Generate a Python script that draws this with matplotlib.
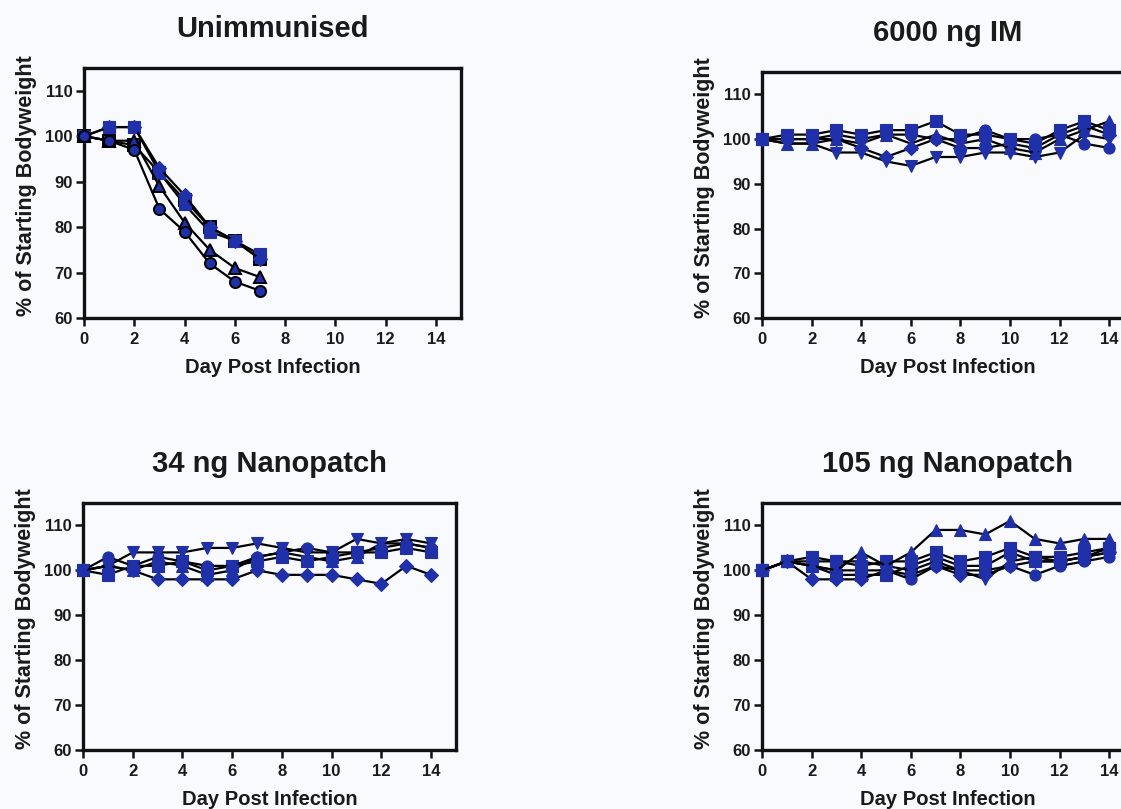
import matplotlib
matplotlib.use("Agg")
import matplotlib.pyplot as plt

plt.rcParams['font.family'] = ['Liberation Sans', 'DejaVu Sans']

# ---------------- data ----------------
days_short = [0, 1, 2, 3, 4, 5, 6, 7]
days = list(range(15))

# Unimmunised
unimm_circle   = [100, 99, 97, 84, 79, 72, 68, 66]
unimm_triangle = [100, 99, 99, 89, 81, 75, 71, 69]
unimm_square   = [100, 102, 102, 92, 85, 79, 77, 74]
unimm_diamond  = [100, 102, 102, 93, 87, 80, 77, 73]
unimm_square_b = [100, 99, 98, 92, 86, 80, 77, 73]

# 6000 ng IM
im_square   = [100, 101, 101, 102, 101, 102, 102, 104, 101, 101, 100, 99, 102, 104, 102]
im_circle   = [100, 100, 100, 101, 100, 101, 101, 100, 100, 102, 100, 100, 101, 99, 98]
im_triangle = [100, 99, 99, 100, 99, 101, 99, 101, 99, 100, 98, 97, 100, 102, 104]
im_invtri   = [100, 99, 99, 97, 97, 95, 94, 96, 96, 97, 97, 96, 97, 101, 100]
im_diamond  = [100, 100, 100, 100, 98, 96, 98, 100, 98, 98, 99, 98, 101, 103, 101]

# 34 ng Nanopatch
np34_invtri   = [100, 101, 104, 104, 104, 105, 105, 106, 105, 104, 104, 107, 106, 107, 106]
np34_circle   = [100, 103, 101, 103, 102, 101, 101, 103, 104, 105, 104, 104, 105, 106, 105]
np34_square   = [100, 99, 101, 101, 102, 100, 101, 102, 103, 102, 103, 104, 104, 105, 104]
np34_triangle = [100, 101, 100, 102, 101, 99, 100, 103, 104, 103, 102, 103, 106, 106, 105]
np34_diamond  = [100, 101, 100, 98, 98, 98, 98, 100, 99, 99, 99, 98, 97, 101, 99]

# 105 ng Nanopatch
np105_triangle = [100, 102, 101, 100, 104, 101, 104, 109, 109, 108, 111, 107, 106, 107, 107]
np105_square   = [100, 102, 103, 102, 101, 102, 102, 104, 102, 103, 105, 103, 103, 104, 105]
np105_circle   = [100, 102, 101, 100, 100, 100, 98, 101, 100, 100, 101, 99, 101, 102, 103]
np105_diamond  = [100, 102, 98, 98, 98, 100, 99, 101, 99, 99, 101, 102, 102, 103, 104]
np105_invtri   = [100, 102, 102, 102, 102, 101, 100, 102, 100, 98, 102, 103, 102, 103, 104]
np105_square_b = [100, 102, 101, 99, 99, 99, 101, 103, 101, 101, 104, 102, 102, 103, 105]

titles = ["Unimmunised", "6000 ng IM", "34 ng Nanopatch", "105 ng Nanopatch"]
xlabel = "Day Post Infection"
ylabel = "% of Starting Bodyweight"
xticks = [0, 2, 4, 6, 8, 10, 12, 14]
yticks = [60, 70, 80, 90, 100, 110]

# ---------------- style ----------------
BG = '#f9fafd'
BLUE = '#1f30a8'
W, H = 1121, 809

fig = plt.figure(figsize=(W / 100, H / 100), dpi=100, facecolor=BG)


def px_axes(left, top, right, bottom):
    return fig.add_axes([left / W, 1 - bottom / H, (right - left) / W, (bottom - top) / H])


axes = [
    px_axes(84, 68, 461, 318),
    px_axes(762, 72, 1134, 318),
    px_axes(83, 503, 456, 750),
    px_axes(762, 503, 1134, 750),
]

panels = [
    (days_short, [(unimm_square_b, 's', 'black'), (unimm_square, 's', BLUE), (unimm_diamond, 'D', BLUE),
                  (unimm_triangle, '^', 'black'), (unimm_circle, 'o', 'black')]),
    (days, [(im_invtri, 'v', BLUE), (im_diamond, 'D', BLUE), (im_triangle, '^', BLUE),
            (im_circle, 'o', BLUE), (im_square, 's', BLUE)]),
    (days, [(np34_diamond, 'D', BLUE), (np34_triangle, '^', BLUE), (np34_square, 's', BLUE),
            (np34_circle, 'o', BLUE), (np34_invtri, 'v', BLUE)]),
    (days, [(np105_square_b, 's', BLUE), (np105_invtri, 'v', BLUE), (np105_diamond, 'D', BLUE),
            (np105_circle, 'o', BLUE), (np105_square, 's', BLUE), (np105_triangle, '^', BLUE)]),
]

for ax, title, (x, series) in zip(axes, titles, panels):
    ax.set_facecolor(BG)
    for y, m, ec in series:
        ms = 7 if m == 'D' else 8
        ax.plot(x, y, color='black', lw=1.6, marker=m, ms=ms, mfc=BLUE, mec=ec,
                mew=1.4 if ec == 'black' else 0.8, clip_on=False, zorder=3)
    ax.set_xlim(0, 15)
    ax.set_ylim(60, 115)
    ax.set_xticks(xticks)
    ax.set_yticks(yticks)
    for s in ax.spines.values():
        s.set_linewidth(2.4)
        s.set_color('#111111')
    ax.tick_params(axis='both', direction='out', length=6, width=1.8, color='#111111',
                   labelsize=12, labelcolor='#1a1a1a')
    ax.tick_params(axis='x', pad=4)
    ax.tick_params(axis='y', pad=2)
    for lab in ax.get_xticklabels() + ax.get_yticklabels():
        lab.set_fontweight('bold')
    ax.set_xlabel(xlabel, fontsize=14.5, fontweight='bold', color='#1a1a1a', labelpad=8)
    ax.set_ylabel(ylabel, fontsize=15.5, fontweight='bold', color='#1a1a1a')
    ax.yaxis.set_label_coords(-47 / ax.bbox.width, 0.53)
    ax.set_title(title, fontsize=21, fontweight='bold', color='#1a1a1a', pad=22)

fig.savefig('out.png', dpi=100, facecolor=BG)
